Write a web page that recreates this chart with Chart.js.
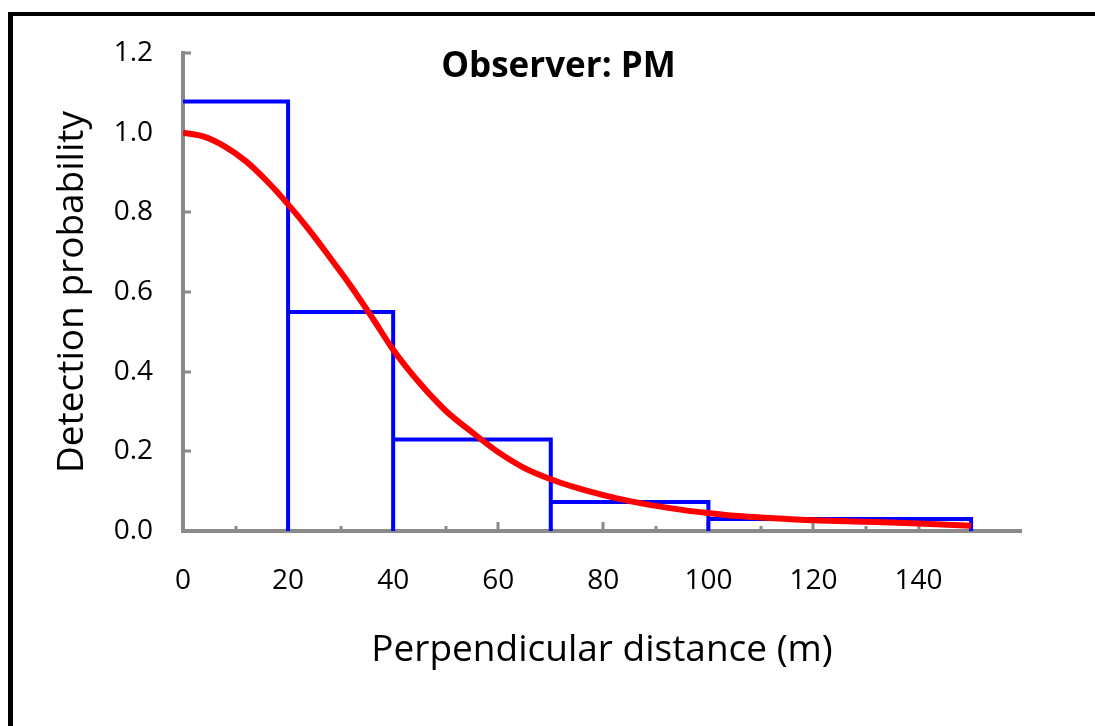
<!DOCTYPE html>
<html>
<head>
<meta charset="utf-8">
<script src="https://cdn.jsdelivr.net/npm/chart.js@4.4.1/dist/chart.umd.min.js"></script>
<style>
  html, body { margin: 0; padding: 0; background: #fff; overflow: hidden; width: 1095px; height: 726px; }
  #frame { position: absolute; left: 8px; top: 12px; width: 1200px; height: 800px; border-left: 5px solid #000; border-top: 4px solid #000; box-sizing: border-box; }
  #c { position: absolute; left: 0; top: 0; }
</style>
</head>
<body>
<div id="frame"></div>
<canvas id="c" width="1095" height="726"></canvas>
<script>
// ---- Data ----
const chartTitle = "Observer: PM";
const xAxisTitle = "Perpendicular distance (m)";
const yAxisTitle = "Detection probability";

// Histogram bins (perpendicular distance, m) and scaled heights
const binEdges = [0, 20, 40, 70, 100, 150];
const binHeights = [1.078, 0.55, 0.23, 0.073, 0.03];

// Fitted detection function
const curveDist = [0, 4, 8, 12, 16, 20, 24, 28, 32, 36, 40, 45, 50, 55, 60, 65, 70, 75, 80, 85, 90, 95, 100, 105, 110, 120, 130, 140, 150];
const curveProb = [1.0, 0.99, 0.965, 0.928, 0.878, 0.82, 0.756, 0.686, 0.614, 0.536, 0.455, 0.372, 0.302, 0.248, 0.198, 0.158, 0.13, 0.108, 0.09, 0.075, 0.063, 0.053, 0.045, 0.038, 0.034, 0.027, 0.023, 0.019, 0.013];

const xMin = 0, xMax = 159.5, xStep = 10, xLabelStep = 20;
const yMin = 0, yMax = 1.2, yStep = 0.2;

// ---- Build datasets ----
const histPoints = [];
for (let i = 0; i < binHeights.length; i++) {
  if (i > 0) histPoints.push({ x: binEdges[i], y: 0 });
  histPoints.push({ x: binEdges[i], y: binHeights[i] });
  histPoints.push({ x: binEdges[i + 1], y: binHeights[i] });
}
histPoints.push({ x: binEdges[binEdges.length - 1], y: 0 });

const curvePoints = curveDist.map((d, i) => ({ x: d, y: curveProb[i] }));

const AXIS_COLOR = '#8a8a8a';
const FONT = '"Open Sans"';

const innerTicks = {
  id: 'innerTicks',
  beforeDatasetsDraw(chart) {
    const { ctx } = chart;
    const xs = chart.scales.x, ys = chart.scales.y;
    const y0 = ys.getPixelForValue(0);
    const x0 = xs.getPixelForValue(0);
    ctx.save();
    ctx.strokeStyle = AXIS_COLOR;
    ctx.lineWidth = 3;
    ctx.beginPath();
    for (let v = xMin; v <= xMax; v += xStep) {
      const px = Math.round(xs.getPixelForValue(v));
      const len = (Math.round(v) % xLabelStep === 0) ? 9 : 5;
      ctx.moveTo(px, y0); ctx.lineTo(px, y0 - len);
    }
    for (let v = yMin; v <= yMax + 1e-9; v += yStep) {
      const py = Math.round(ys.getPixelForValue(v));
      ctx.moveTo(x0, py); ctx.lineTo(x0 + 8, py);
    }
    ctx.stroke();
    ctx.restore();
  }
};

const innerTitle = {
  id: 'innerTitle',
  afterDraw(chart) {
    const { ctx, chartArea } = chart;
    ctx.save();
    ctx.font = 'bold 35px ' + FONT;
    ctx.fillStyle = '#000';
    ctx.textAlign = 'center';
    ctx.textBaseline = 'middle';
    ctx.fillText(chartTitle, chartArea.left + chartArea.width * 0.448, chartArea.top + 14);
    ctx.restore();
  }
};

new Chart(document.getElementById('c'), {
  type: 'scatter',
  data: {
    datasets: [
      {
        label: 'Detection function',
        data: curvePoints,
        showLine: true,
        borderColor: '#ff0000',
        borderWidth: 6,
        pointRadius: 0,
        cubicInterpolationMode: 'monotone',
        order: 0
      },
      {
        label: 'Histogram',
        data: histPoints,
        showLine: true,
        borderColor: '#0000ff',
        borderWidth: 4,
        pointRadius: 0,
        tension: 0,
        borderJoinStyle: 'miter',
        borderCapStyle: 'round',
        order: 1
      }
    ]
  },
  options: {
    responsive: false,
    animation: false,
    devicePixelRatio: 1,
    layout: { padding: { left: 20, top: 53, right: 74, bottom: 0 } },
    plugins: { legend: { display: false }, tooltip: { enabled: false }, title: { display: false } },
    scales: {
      x: {
        type: 'linear',
        min: xMin, max: xMax,
        grid: { display: false, drawTicks: false },
        border: { display: true, color: AXIS_COLOR, width: 4 },
        ticks: {
          stepSize: xStep,
          autoSkip: false,
          maxRotation: 0,
          padding: 33,
          color: '#000',
          font: { family: FONT, size: 28 },
          callback: (v) => (Math.abs(v % xLabelStep) < 1e-9 && v <= 140) ? String(v) : ''
        },
        title: {
          display: true, text: xAxisTitle, color: '#000',
          font: { family: FONT, size: 37 },
          padding: { top: 0, bottom: 53 }
        },
        afterFit(scale) { scale.height = 195; }
      },
      y: {
        type: 'linear',
        min: yMin, max: yMax,
        grid: { display: false, drawTicks: false },
        border: { display: true, color: AXIS_COLOR, width: 4 },
        ticks: {
          stepSize: yStep,
          padding: 30,
          color: '#000',
          font: { family: FONT, size: 28 },
          callback: (v) => v.toFixed(1)
        },
        title: {
          display: true, text: yAxisTitle, color: '#000',
          font: { family: FONT, size: 37 },
          padding: { top: 30, bottom: 0 }
        },
        afterFit(scale) { scale.width = 163; }
      }
    }
  },
  plugins: [innerTicks, innerTitle]
});
</script>
</body>
</html>
